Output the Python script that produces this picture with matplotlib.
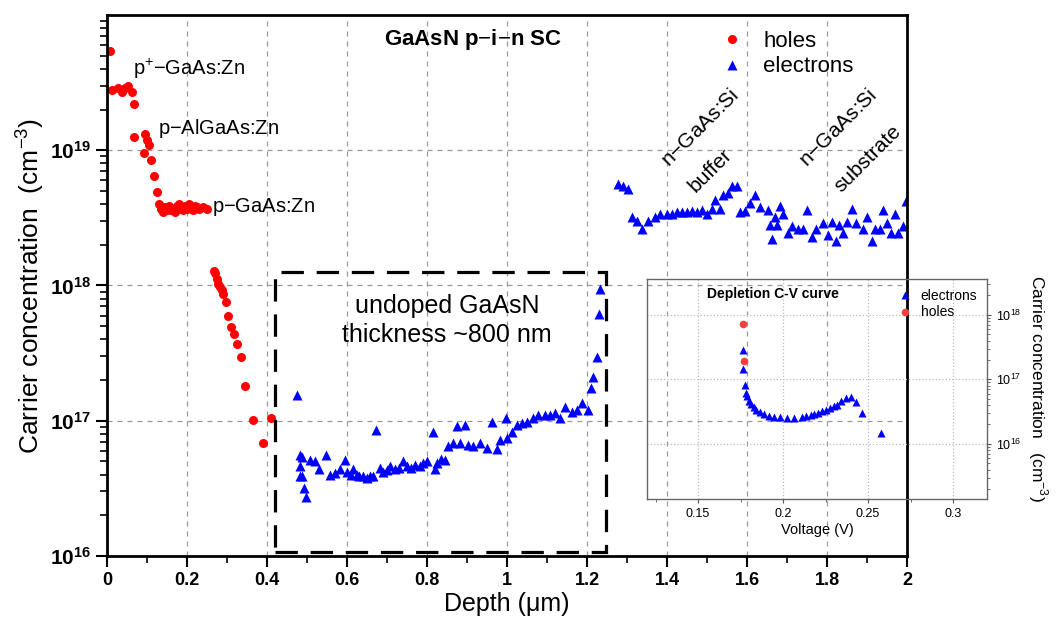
import numpy as np
import matplotlib
matplotlib.use("Agg")
import matplotlib.pyplot as plt
from matplotlib.patches import Rectangle
from matplotlib.ticker import FixedLocator, LogLocator, MultipleLocator, NullFormatter

plt.rcParams['font.family'] = ['Liberation Sans', 'DejaVu Sans']
plt.rcParams['mathtext.fontset'] = 'custom'
plt.rcParams['mathtext.rm'] = 'Liberation Sans'
plt.rcParams['mathtext.bf'] = 'Liberation Sans:bold'

# depth profile (um, cm^-3)
holes_depth = [0.0075, 0.0125, 0.028, 0.0375, 0.045, 0.052, 0.0625, 0.0675, 0.0675,
               0.0925, 0.095, 0.1, 0.105, 0.11, 0.1175, 0.125, 0.13,
               0.135, 0.14, 0.145, 0.15, 0.155, 0.16, 0.165, 0.17, 0.175, 0.18, 0.185,
               0.19, 0.195, 0.2, 0.205, 0.21, 0.215, 0.22, 0.225, 0.23, 0.24, 0.25,
               0.2675, 0.27, 0.275, 0.278, 0.283, 0.288, 0.29, 0.298, 0.303, 0.31,
               0.318, 0.325, 0.335, 0.345, 0.365, 0.39, 0.41]
holes_conc = [5.4e19, 2.8e19, 2.9e19, 2.7e19, 2.9e19, 3.0e19, 2.7e19, 2.2e19, 1.26e19,
              9.5e18, 1.31e19, 1.19e19, 1.09e19, 8.4e18, 6.5e18, 4.9e18, 4.0e18,
              3.7e18, 3.5e18, 3.8e18, 3.6e18, 3.9e18, 3.6e18, 3.7e18, 3.5e18, 3.9e18, 4.0e18, 3.7e18,
              3.6e18, 3.9e18, 3.7e18, 4.0e18, 3.8e18, 3.6e18, 3.9e18, 3.8e18, 3.7e18, 3.8e18, 3.7e18,
              1.29e18, 1.23e18, 1.12e18, 1.03e18, 9.7e17, 9.2e17, 8.7e17, 7.5e17, 6.0e17, 4.9e17,
              4.4e17, 3.7e17, 2.95e17, 1.8e17, 1.02e17, 6.9e16, 1.04e17]

elec_depth = [0.475, 0.4825, 0.4875, 0.4825, 0.4875, 0.4925, 0.4975, 0.4825, 0.5075,
              0.52, 0.53, 0.5475, 0.5575, 0.57, 0.5825, 0.595, 0.6, 0.61, 0.615, 0.625,
              0.63, 0.64, 0.65, 0.6575, 0.665, 0.6725, 0.6825, 0.69, 0.7, 0.7075, 0.72,
              0.73, 0.74, 0.75, 0.76, 0.77, 0.7825, 0.79, 0.8, 0.815, 0.82, 0.825, 0.835,
              0.845, 0.8525, 0.865, 0.875, 0.8825, 0.895, 0.9025, 0.915, 0.9325, 0.95,
              0.9625, 0.975, 0.9825, 0.9975, 1.0, 1.0125, 1.025, 1.0375, 1.05, 1.065,
              1.0775, 1.095, 1.1075, 1.12, 1.1325, 1.145, 1.1625, 1.175, 1.1875, 1.2025,
              1.21, 1.215, 1.225, 1.23, 1.2325,
              1.2775, 1.29, 1.3025, 1.3125, 1.325, 1.3375, 1.3525, 1.37, 1.3825, 1.4,
              1.4125, 1.425, 1.4375, 1.45, 1.4625, 1.475, 1.4875, 1.5, 1.5125, 1.52,
              1.5325, 1.54, 1.5525, 1.5625, 1.575, 1.5825, 1.595, 1.6075, 1.62, 1.6325,
              1.6525, 1.6575, 1.6625, 1.67, 1.675, 1.6825, 1.69, 1.7025, 1.7125, 1.7275,
              1.74, 1.75, 1.7625, 1.7725, 1.79, 1.8025, 1.8125, 1.8225, 1.83, 1.84,
              1.85, 1.8625, 1.8725, 1.89, 1.9, 1.9125, 1.92, 1.9325, 1.94, 1.95,
              1.96, 1.97, 1.9775, 1.99, 1.9975]
elec_conc = [1.55e17, 5.6e16, 5.4e16, 4.6e16, 3.9e16, 3.2e16, 2.75e16, 3.9e16, 5.1e16,
             5.0e16, 4.4e16, 5.6e16, 4.0e16, 4.1e16, 4.4e16, 5.1e16, 4.2e16, 4.0e16, 4.4e16, 4.0e16,
             3.9e16, 3.9e16, 3.8e16, 3.9e16, 3.9e16, 8.5e16, 4.5e16, 4.2e16, 4.3e16, 4.6e16, 4.4e16,
             4.5e16, 5.0e16, 4.6e16, 4.5e16, 4.7e16, 4.6e16, 4.9e16, 5.0e16, 8.3e16, 4.4e16, 4.9e16, 5.2e16,
             5.1e16, 6.5e16, 6.9e16, 9.1e16, 6.9e16, 9.3e16, 6.6e16, 6.5e16, 6.9e16, 6.3e16,
             9.8e16, 6.2e16, 7.2e16, 1.05e17, 7.4e16, 8.3e16, 9.3e16, 9.7e16, 9.8e16, 1.05e17,
             1.1e17, 1.1e17, 1.1e17, 1.15e17, 1.04e17, 1.26e17, 1.17e17, 1.2e17, 1.35e17, 1.2e17,
             1.74e17, 2.1e17, 2.95e17, 6.2e17, 9.5e17,
             5.6e18, 5.4e18, 5.2e18, 3.2e18, 3.0e18, 2.6e18, 3.0e18, 3.2e18, 3.4e18, 3.4e18,
             3.4e18, 3.5e18, 3.5e18, 3.5e18, 3.55e18, 3.5e18, 3.6e18, 3.4e18, 3.7e18, 4.3e18,
             3.7e18, 4.7e18, 4.8e18, 5.4e18, 5.4e18, 3.5e18, 3.55e18, 4.1e18, 4.7e18, 3.8e18,
             3.6e18, 2.8e18, 2.2e18, 3.2e18, 2.8e18, 3.9e18, 3.4e18, 2.45e18, 2.75e18, 2.6e18,
             2.6e18, 3.6e18, 2.3e18, 2.6e18, 2.9e18, 2.35e18, 2.95e18, 2.15e18, 2.8e18, 2.45e18,
             2.95e18, 3.7e18, 2.9e18, 2.6e18, 3.2e18, 2.15e18, 2.6e18, 2.6e18, 3.6e18, 2.9e18,
             2.45e18, 3.4e18, 2.45e18, 2.75e18, 4.2e18]

# C-V inset (V, cm^-3)
cv_elec_v = [0.1765, 0.1765, 0.1774, 0.1784, 0.1788, 0.1798, 0.1812, 0.1827, 0.1843,
             0.1863, 0.1886, 0.1916, 0.1946, 0.1985, 0.2025, 0.2064, 0.2109, 0.2133,
             0.2163, 0.218, 0.2208, 0.2232, 0.2251, 0.2275, 0.2297, 0.2317, 0.234,
             0.237, 0.2399, 0.2429, 0.2463, 0.2577]
cv_elec_n = [2.86e17, 1.46e17, 8.2e16, 6.1e16, 5.6e16, 4.6e16, 4.1e16, 3.7e16, 3.4e16,
             3.15e16, 2.95e16, 2.75e16, 2.65e16, 2.6e16, 2.5e16, 2.55e16, 2.65e16, 2.7e16,
             2.8e16, 2.9e16, 3.05e16, 3.25e16, 3.4e16, 3.55e16, 3.8e16, 4.0e16, 4.55e16,
             5.1e16, 5.3e16, 4.5e16, 3.05e16, 1.5e16]
cv_holes_v = [0.1765, 0.1768]
cv_holes_n = [7.2e17, 1.9e17]

fig = plt.figure(figsize=(10.59, 6.35), dpi=100)
ax = fig.add_axes([0.101, 0.1244, 0.7555, 0.852])

ax.plot(holes_depth, holes_conc, 'o', color='red', ms=6.5, mec='none', label='holes')
ax.plot(elec_depth, elec_conc, '^', color='blue', ms=7.5, mec='none', label='electrons')

ax.set_yscale('log')
ax.set_xlim(0, 2)
ax.set_ylim(1e16, 1e20)
ax.xaxis.set_major_locator(MultipleLocator(0.2))
ax.xaxis.set_minor_locator(MultipleLocator(0.1))
ax.yaxis.set_major_locator(FixedLocator([1e16, 1e17, 1e18, 1e19]))
ax.yaxis.set_minor_locator(LogLocator(base=10, subs=np.arange(2, 10)))
ax.yaxis.set_minor_formatter(NullFormatter())
ax.set_xticks(np.arange(0, 2.01, 0.2))
ax.set_xticklabels(['0', '0.2', '0.4', '0.6', '0.8', '1', '1.2', '1.4', '1.6', '1.8', '2'],
                   fontweight='bold', fontsize=13)
ax.set_yticklabels([r'$\mathbf{10^{16}}$', r'$\mathbf{10^{17}}$', r'$\mathbf{10^{18}}$',
                    r'$\mathbf{10^{19}}$'], fontsize=15)
ax.tick_params(axis='both', which='major', direction='out', length=8, width=1.5)
ax.tick_params(axis='both', which='minor', direction='out', length=5, width=1.2)
ax.tick_params(top=False, right=False, which='both')
for s in ax.spines.values():
    s.set_linewidth(2)
ax.grid(True, which='major', linestyle=(0, (4, 4)), color='#999999', linewidth=0.9)

ax.set_xlabel('Depth (\u03bcm)', fontsize=18, labelpad=2)
ax.set_ylabel(r'Carrier concentration  (cm$^{-3}$)', fontsize=19, labelpad=3)

ax.text(0.4575, 0.955, r'GaAsN p$-$i$-$n SC', transform=ax.transAxes, ha='center', va='center',
        fontsize=16, fontweight='bold')
ax.legend(loc='upper right', bbox_to_anchor=(0.95, 0.995), frameon=False, fontsize=16,
          handletextpad=0.8, labelspacing=0.2, handlelength=1.2, borderaxespad=0.2)

ax.text(0.065, 4.0e19, r'p$^{+}$$-$GaAs:Zn', fontsize=14.5, ha='left', va='center')
ax.text(0.128, 1.45e19, r'p$-$AlGaAs:Zn', fontsize=14.5, ha='left', va='center')
ax.text(0.262, 3.8e18, r'p$-$GaAs:Zn', fontsize=14.5, ha='left', va='center')
ax.text(1.4825, 1.45e19, r'n$-$GaAs:Si', fontsize=15, rotation=45, ha='center', va='center')
ax.text(1.5075, 7.1e18, 'buffer', fontsize=15, rotation=45, ha='center', va='center')
ax.text(1.8275, 1.45e19, r'n$-$GaAs:Si', fontsize=15, rotation=45, ha='center', va='center')
ax.text(1.9025, 8.6e18, 'substrate', fontsize=15, rotation=45, ha='center', va='center')
ax.text(0.85, 5.5e17, 'undoped GaAsN\nthickness ~800 nm', fontsize=18, ha='center',
        va='center', linespacing=1.3)

ax.add_patch(Rectangle((0.42, 1.07e16), 0.8275, 1.25e18 - 1.07e16, fill=False,
                       edgecolor='black', linewidth=2.3, linestyle=(0, (7, 4)), zorder=3))

# inset
ins = fig.add_axes([0.611, 0.2142, 0.321, 0.3465])
ins.set_facecolor('none')
ins.plot(cv_elec_v, cv_elec_n, '^', color='blue', ms=5.5, mec='none', label='electrons')
ins.plot(cv_holes_v, cv_holes_n, 'o', color='#f04040', ms=5.5, mec='none', label='holes')
ins.set_yscale('log')
ins.set_xlim(0.12, 0.32)
ins.set_ylim(1.4e15, 3.6e18)
ins.xaxis.set_major_locator(FixedLocator([0.15, 0.2, 0.25, 0.3]))
ins.xaxis.set_minor_locator(MultipleLocator(0.025))
ins.set_xticklabels(['0.15', '0.2', '0.25', '0.3'], fontsize=9)
ins.yaxis.set_major_locator(FixedLocator([1e16, 1e17, 1e18]))
ins.yaxis.set_minor_locator(LogLocator(base=10, subs=np.arange(2, 10)))
ins.yaxis.set_minor_formatter(NullFormatter())
ins.set_yticklabels([r'$10^{16}$', r'$10^{17}$', r'$10^{18}$'], fontsize=9)
ins.yaxis.tick_right()
ins.yaxis.set_label_position('right')
ins.tick_params(axis='both', which='major', direction='out', length=3, width=0.8, color='#555555')
ins.tick_params(axis='both', which='minor', direction='out', length=2, width=0.6, color='#555555')
ins.tick_params(axis='y', which='both', left=False, right=True)
for s in ins.spines.values():
    s.set_color('#666666')
    s.set_linewidth(1.0)
ins.grid(True, which='major', linestyle=':', color='#bbbbbb', linewidth=0.9)
ins.set_xlabel('Voltage (V)', fontsize=10.5, labelpad=2)
ins.set_ylabel(r'Carrier concentration   (cm$^{-3}$)', fontsize=12.5, rotation=270, labelpad=20)
ins.text(0.37, 0.93, 'Depletion C-V curve', transform=ins.transAxes, ha='center', va='center',
         fontsize=10, fontweight='bold')
ins.legend(loc='upper right', bbox_to_anchor=(1.0, 1.0), frameon=False, fontsize=10,
           handletextpad=0.5, labelspacing=0.2, handlelength=1.2, borderaxespad=0.3)

fig.savefig('out.png', dpi=100)
